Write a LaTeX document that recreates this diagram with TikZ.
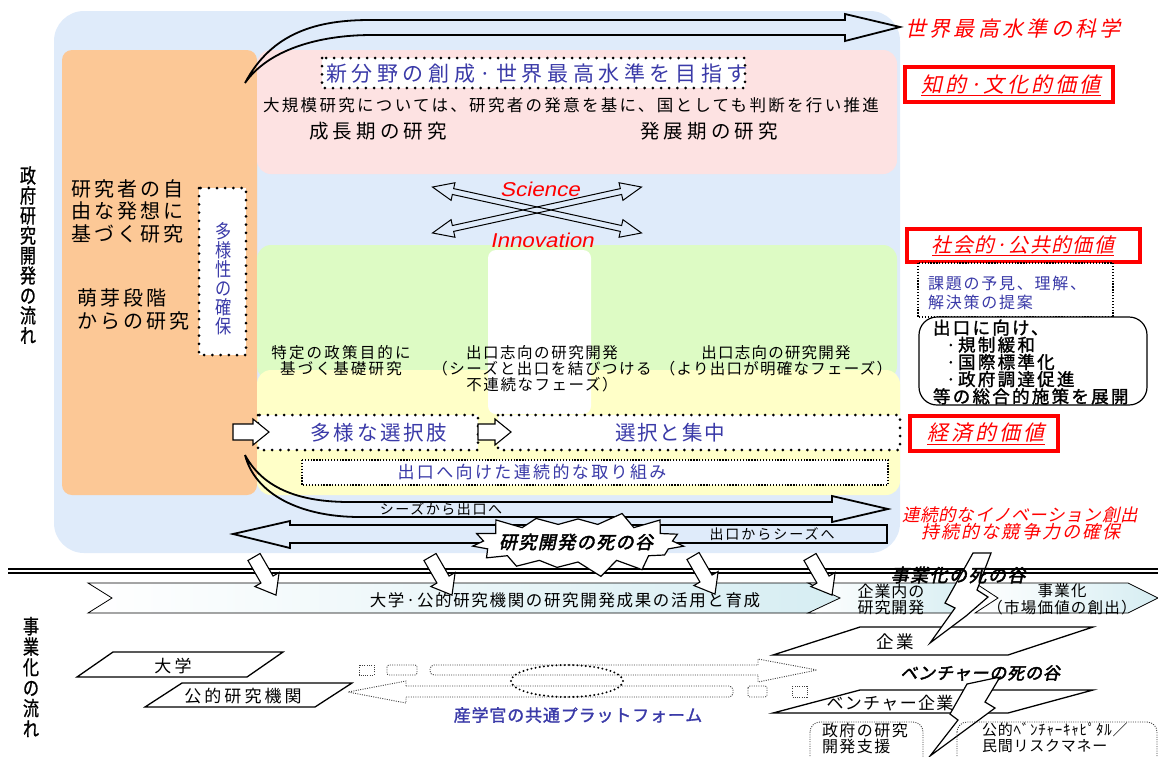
\documentclass[tikz,border=0pt]{standalone}
\usepackage{fontspec}
\setmainfont{Noto Sans CJK JP}
\newfontfamily\jpi{Noto Sans CJK JP}[FakeSlant=0.22]
\newfontfamily\jpbi{Noto Sans CJK JP}[FakeSlant=0.22,FakeBold=2.5]
\newfontfamily\jpb{Noto Sans CJK JP}[FakeBold=1.5]
\newfontfamily\jpv{Noto Sans CJK JP}[FakeStretch=0.8,FakeBold=1]
\newfontfamily\jpvb{Noto Sans CJK JP}[FakeStretch=0.85]
\newfontfamily\lat{Liberation Sans}[FakeSlant=0.2,FakeStretch=1.12]
\usetikzlibrary{shapes.symbols}
\definecolor{bgblue}{RGB}{223,235,250}
\definecolor{orng}{RGB}{252,200,150}
\definecolor{pnk}{RGB}{253,226,226}
\definecolor{grn}{RGB}{221,251,196}
\definecolor{ylw}{RGB}{255,255,200}
\definecolor{jblue}{RGB}{58,58,168}
\definecolor{chev}{RGB}{214,237,242}
\newcommand{\jfs}[3]{\fontsize{#1}{#2}\selectfont\addfontfeature{LetterSpace=#3}}
% block arrow: x y angle length shafthalf headhalf headlen
\newcommand{\blk}[7]{\begin{scope}[shift={(#1,#2)},rotate=#3]
\draw[blockarr] (0,-#5) -- ({#4-#7},-#5) -- ({#4-#7},-#6) -- (#4,0) -- ({#4-#7},#6) -- ({#4-#7},#5) -- (0,#5) -- cycle;
\end{scope}}
\newcommand{\dblarrow}[3]{\begin{scope}[shift={(#1,#2)},rotate=#3]
\draw[line width=1pt] (-107,0) -- (-86,-9) -- (-86,-3) -- (86,-3) -- (86,-9) -- (107,0) -- (86,9) -- (86,3) -- (-86,3) -- (-86,9) -- cycle;
\end{scope}}
\begin{document}
\begin{tikzpicture}[x=1pt,y=-1pt,
  bigdot/.style={draw=black, line width=3pt, dash pattern=on 0pt off 8.2pt, line cap=round},
  thindot/.style={draw=black, line width=1.3pt, dash pattern=on 1.3pt off 1.6pt},
  finedot/.style={draw=black!75, line width=0.9pt, dash pattern=on 1pt off 1.3pt},
  redbox/.style={draw=red, line width=3.5pt},
  blockarr/.style={draw=black, fill=white, line width=1.1pt},
  every node/.style={inner sep=0pt, outer sep=0pt},
  bolt/.style={draw=black, fill=white, line width=1.2pt, line join=miter},
  para/.style={draw=black, fill=white, line width=1.3pt},
]
\useasboundingbox (0,0) rectangle (1158,756);
% ---------- backgrounds
\fill[bgblue, rounded corners=30] (54,11) rectangle (900,553);
\fill[orng, rounded corners=10] (62,50) rectangle (257,495);
\shade[rounded corners=14, top color=pnk, middle color=white, bottom color=pnk] (257,50) rectangle (897,174);
\shade[rounded corners=14, top color=grn, middle color=white, bottom color=grn] (257,245) rectangle (897,380);
\shade[rounded corners=14, top color=ylw, middle color=white, bottom color=ylw] (257,370) rectangle (900,495);
\fill[white, rounded corners=8] (488,250) rectangle (591,414);

% ---------- left vertical labels
\node[align=center, font={\jpv\fontsize{20}{20}\selectfont}] (flowgov) at (28,255) {政\\府\\研\\究\\開\\発\\の\\流\\れ};
\node[align=center, font={\jpv\fontsize{20}{20.5}\selectfont}] (flowbiz) at (31,677) {事\\業\\化\\の\\流\\れ};

% ---------- top curved arrow
\draw[line width=1.8pt] (245,83) .. controls (272,32) and (318,20) .. (370,20) -- (845,20) -- (845,14) -- (900,27) -- (845,41) -- (845,35) -- (372,35) .. controls (318,35) and (268,50) .. (245,83);
\node[anchor=west, text=red, font={\jpi\jfs{21}{24}{16}}] (world) at (905,29) {世界最高水準の科学};

% ---------- value boxes
\draw[redbox] (905,67) rectangle (1113,102);
\node[text=red, font={\jpi\jfs{21}{24}{14}}] (chiteki) at (1011,85) {\underline{知的·文化的価値}};
\draw[redbox] (907,229) rectangle (1140,262);
\node[text=red, font={\jpi\jfs{20}{23}{7}}] (shakai) at (1023,246) {\underline{社会的·公共的価値}};
\draw[redbox] (910,416) rectangle (1058,451);
\node[text=red, font={\jpi\jfs{21}{24}{15}}] (keizai) at (986,434) {\underline{経済的価値}};
\draw[thindot, fill=white] (918,263) rectangle (1113,317);
\node[anchor=west, align=left, text=jblue, font={\jfs{16}{19}{11}}] (kadai) at (928,293) {課題の予見、理解、\\解決策の提案};
\draw[line width=1.2pt, rounded corners=18, fill=white] (919,317) rectangle (1147,405);
\node[anchor=west, align=left, font={\jpb\jfs{17.5}{15.3}{13}}] (sesaku) at (933,362) {出口に向け、\\\hspace*{13pt}·規制緩和\\\hspace*{13pt}·国際標準化\\\hspace*{13pt}·政府調達促進\\等の総合的施策を展開};

% ---------- pink band texts
\draw[bigdot, fill=white] (322,58) rectangle (745,88);
\node[text=jblue, font={\jfs{21}{24}{22}}] (shinbunya) at (537,74) {新分野の創成·世界最高水準を目指す};
\node[font={\jfs{16.5}{19}{14}}] (daikibo) at (571,105) {大規模研究については、研究者の発意を基に、国としても判断を行い推進};
\node[font={\jfs{19.5}{22}{21}}] (seicho) at (378,131) {成長期の研究};
\node[font={\jfs{19.5}{22}{21}}] (hatten) at (709,131) {発展期の研究};

% ---------- Science / Innovation
\dblarrow{537}{210}{-12.4}
\dblarrow{537}{210}{12.4}
\node[text=red, font={\lat\fontsize{20}{24}\selectfont}] (sci) at (540,189) {Science};
\node[text=red, font={\lat\fontsize{20}{24}\selectfont}] (inno) at (542,240) {Innovation};

% ---------- orange column
\node[anchor=west, align=left, font={\jfs{20}{22.5}{16}}] (jiyu) at (71,211) {研究者の自\\由な発想に\\基づく研究};
\node[anchor=west, align=left, font={\jfs{20}{23}{16}}] (houga) at (77,309) {萌芽段階\\からの研究};
\draw[bigdot, fill=white] (199,188) rectangle (246,355);
\node[align=center, text=jblue, font={\jpvb\fontsize{19}{19}\selectfont}] (tayosei) at (224,279) {多\\様\\性\\の\\確\\保};

% ---------- green band texts
\node[align=center, font={\jfs{15.5}{16}{14}}] (tokutei) at (341,361) {特定の政策目的に\\基づく基礎研究};
\node[align=center, font={\jfs{15.5}{16}{10}}] (deguchiA) at (542,369) {出口志向の研究開発\\（シーズと出口を結びつける\\不連続なフェーズ）};
\node[align=center, font={\jfs{15.5}{16}{8}}] (deguchiB) at (776,361) {出口志向の研究開発\\（より出口が明確なフェーズ）};

% ---------- option boxes
\draw[bigdot, fill=white] (258,415) rectangle (478,450);
\draw[bigdot, fill=white] (498,415) rectangle (900,450);
\blk{233}{432}{0}{36}{8}{13}{16}
\blk{478}{432}{0}{33}{8}{13}{16}
\node[text=jblue, font={\jfs{20.5}{22}{13}}] (tayo) at (379,433) {多様な選択肢};
\node[text=jblue, font={\jfs{20.5}{22}{9}}] (sentaku) at (670,433) {選択と集中};
\draw[thindot, fill=white] (302,460) rectangle (888,485);
\node[text=jblue, font={\jfs{17}{19}{14}}] (renzoku) at (532,472) {出口へ向けた連続的な取り組み};

% ---------- bottom curved arrow and return arrow
\draw[line width=1.8pt] (245,455) .. controls (266,494) and (310,502) .. (350,502) -- (832,502) -- (832,496) -- (888,509) -- (832,522) -- (832,517) -- (360,517) .. controls (300,517) and (255,494) .. (245,455);
\node[font={\jfs{14}{15}{11}}] (seeds2exit) at (441,509) {シーズから出口へ};
\draw[line width=1.8pt, fill=bgblue] (233,534) -- (290,521) -- (290,525) -- (887,525) -- (887,543) -- (290,543) -- (290,548) -- cycle;
\node[font={\jfs{14}{15}{14}}] (exit2seeds) at (772,534) {出口からシーズへ};
\node[anchor=center, text=red, font={\jpi\jfs{17.5}{20}{4}}] (innov) at (1020,515) {連続的なイノベーション創出};
\node[anchor=center, text=red, font={\jpi\jfs{18}{20}{12}}] (kyoso) at (1021,532) {持続的な競争力の確保};

% ---------- separator
\draw[line width=1.6pt] (8,568.8) -- (1158,568.8);
\draw[line width=1.6pt] (8,572.8) -- (1158,572.8);

% ---------- death valley starburst
\node[starburst, draw, fill=white, line width=1.2pt, minimum width=222pt, minimum height=70pt, starburst points=15, starburst point height=16pt, random starburst=3] (sb) at (578,543) {};
\node[font={\jpbi\jfs{18}{20}{8}}] (rdvalley) at (576,542) {研究開発の死の谷};

% ---------- chevrons
\shadedraw[left color=white, right color=chev, draw=black, line width=0.8pt] (88,583) -- (815,583) -- (843,598) -- (815,613) -- (88,613) -- (112,598) -- cycle;
\shadedraw[left color=white, right color=chev, draw=black, line width=0.8pt] (808,583) -- (958,583) -- (975,598) -- (958,613) -- (808,613) -- (840,598) -- cycle;
\shadedraw[left color=white, right color=chev, draw=black, line width=0.8pt] (975,583) -- (1128,583) -- (1158,598) -- (1128,613) -- (975,613) -- (998,598) -- cycle;
\node[font={\jfs{16.5}{18}{10}}] (katsuyo) at (565,600) {大学·公的研究機関の研究開発成果の活用と育成};
\node[align=center, font={\jfs{16}{16}{6}}] (kigyonai) at (891,599) {企業内の\\研究開発};
\node[align=center, font={\jfs{15.5}{16.5}{8}}] (jigyoka) at (1062,599) {事業化\\（市場価値の創出）};

% ---------- down arrows
\blk{254}{557}{-60}{44}{7}{14}{18}
\blk{430}{557}{-60}{44}{7}{14}{18}
\blk{693}{556}{-60}{44}{7}{14}{18}
\blk{810}{557}{-60}{44}{7}{14}{18}

% ---------- parallelograms
\draw[para] (113,652) -- (283,652) -- (247,677) -- (77,677) -- cycle;
\node[font={\jfs{17}{18}{18}}] (daigaku) at (173,666) {大学};
\draw[para] (182,683) -- (352,683) -- (315,707) -- (145,707) -- cycle;
\node[font={\jfs{17}{18}{18}}] (kokenkyu) at (243,696) {公的研究機関};
\draw[para] (860,627) -- (1093,627) -- (1008,655) -- (773,655) -- cycle;
\draw[para] (860,690) -- (1093,690) -- (1008,713) -- (773,713) -- cycle;

% ---------- platform
\draw[finedot] (359,665) rectangle (374,675);
\draw[finedot, rounded corners=2] (387,665) rectangle (417,675);
\draw[finedot, rounded corners=4] (758,675) -- (430,675) -- (430,665) -- (758,665);
\draw[finedot] (758,665) -- (758,659) -- (817,670) -- (758,682) -- (758,675);
\draw[finedot] (406,686) -- (406,681) -- (348,692) -- (406,703) -- (406,697);
\draw[finedot, rounded corners=4] (406,686) -- (733,686) -- (733,697) -- (406,697);
\draw[finedot, rounded corners=2] (748,686) rectangle (767,697);
\draw[finedot] (792,686) rectangle (807,697);
\draw[line width=2.2pt, dash pattern=on 0pt off 4.2pt, line cap=round] (567,681) ellipse [x radius=56, y radius=16];
\node[text=jblue, font={\jpb\jfs{17}{19}{5}}] (platform) at (578,715) {産学官の共通プラットフォーム};

% ---------- bolts
\draw[bolt] (973,553) -- (991,553) -- (977,590) -- (988,597) -- (966,616) -- (930,643) -- (955,608) -- (945,603) -- cycle;
\draw[bolt] (967,684) -- (1000,677) -- (985,702) -- (995,708) -- (968,728) -- (930,756) -- (958,720) -- (950,714) -- cycle;
\node[font={\jpbi\jfs{18}{20}{8}}] (bizvalley) at (958,575) {事業化の死の谷};
\node[font={\jfs{17.5}{18}{17}}] (kigyo) at (895,642) {企業};
\node[font={\jpbi\jfs{17}{19}{5}}] (ventvalley) at (980,673) {ベンチャーの死の谷};
\node[font={\jfs{17}{18}{8}}] (venture) at (890,703) {ベンチャー企業};

% ---------- bottom support boxes
\draw[finedot, rounded corners=10] (810,722) rectangle (923,775);
\node[anchor=west, align=left, font={\jfs{16}{16}{9}}] (shien) at (822,738) {政府の研究\\開発支援};
\draw[finedot, rounded corners=10] (957,722) rectangle (1157,775);
\node[anchor=west, align=left, font={\jfs{15}{16}{5}}] (vc) at (982,738) {公的ﾍﾞﾝﾁｬｰｷｬﾋﾟﾀﾙ／\\民間リスクマネー};
\end{tikzpicture}
\end{document}
